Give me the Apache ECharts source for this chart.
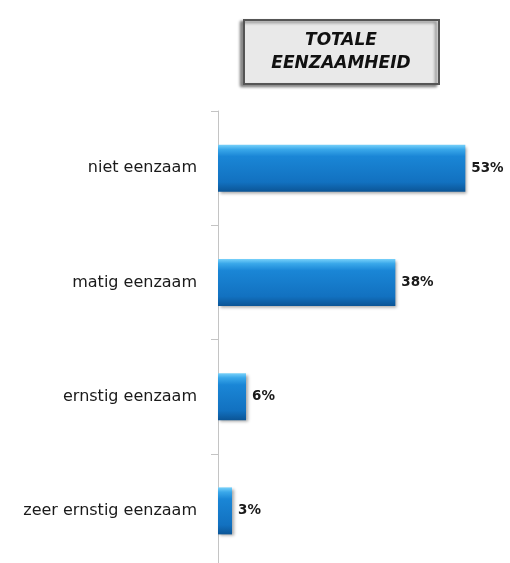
<!DOCTYPE html>
<html>
<head>
<meta charset="utf-8">
<script src="https://cdn.jsdelivr.net/npm/echarts@6/dist/echarts.min.js"></script>
<style>
html,body{margin:0;padding:0;background:#fff;}
#main{width:510px;height:563px;}
</style>
</head>
<body>
<div id="main"></div>
<script>
var categories = ['niet eenzaam', 'matig eenzaam', 'ernstig eenzaam', 'zeer ernstig eenzaam'];
var values = [53, 38, 6, 3];
var titleLines = ['TOTALE', 'EENZAAMHEID'];

var chart = echarts.init(document.getElementById('main'));
chart.setOption({
  animation: false,
  backgroundColor: '#ffffff',
  graphic: [{
    type: 'group',
    left: 243,
    top: 19,
    children: [{
      type: 'rect',
      shape: {x: 0, y: 0, width: 195, height: 64},
      style: {
        fill: '#e9e9e9',
        stroke: '#555555',
        lineWidth: 2,
        shadowBlur: 3,
        shadowOffsetX: -3,
        shadowOffsetY: 2,
        shadowColor: 'rgba(0,0,0,0.45)'
      }
    }, {
      type: 'text',
      x: 97,
      y: 32,
      style: {
        text: titleLines.join('\n'),
        font: 'italic bold 17px "DejaVu Sans"',
        lineHeight: 23,
        fill: '#111',
        align: 'center',
        verticalAlign: 'middle'
      }
    }]
  }],
  grid: {
    left: 218,
    top: 111,
    width: 280,
    height: 457,
    outerBoundsMode: 'none',
    containLabel: false
  },
  xAxis: {
    type: 'value',
    min: 0,
    max: 60,
    show: false
  },
  yAxis: {
    type: 'category',
    data: categories,
    inverse: true,
    axisLine: {show: true, lineStyle: {color: '#c4c4c4', width: 1}},
    axisTick: {show: true, length: 7, lineStyle: {color: '#c4c4c4'}},
    axisLabel: {
      margin: 21,
      fontFamily: 'DejaVu Sans',
      fontSize: 16,
      color: '#1a1a1a'
    }
  },
  series: [{
    type: 'bar',
    data: values,
    barWidth: 47,
    itemStyle: {
      color: new echarts.graphic.LinearGradient(0, 0, 0, 1, [
        {offset: 0, color: '#79d2fa'},
        {offset: 0.1, color: '#3aa8ea'},
        {offset: 0.25, color: '#1a86d6'},
        {offset: 0.8, color: '#1271c0'},
        {offset: 1, color: '#0b5596'}
      ]),
      shadowBlur: 3,
      shadowOffsetX: 2,
      shadowOffsetY: 2,
      shadowColor: 'rgba(0,0,0,0.35)'
    },
    label: {
      show: true,
      position: 'right',
      distance: 6,
      formatter: '{c}%',
      fontFamily: 'DejaVu Sans',
      fontWeight: 'bold',
      fontSize: 13.5,
      color: '#1a1a1a'
    }
  }]
});
</script>
</body>
</html>
